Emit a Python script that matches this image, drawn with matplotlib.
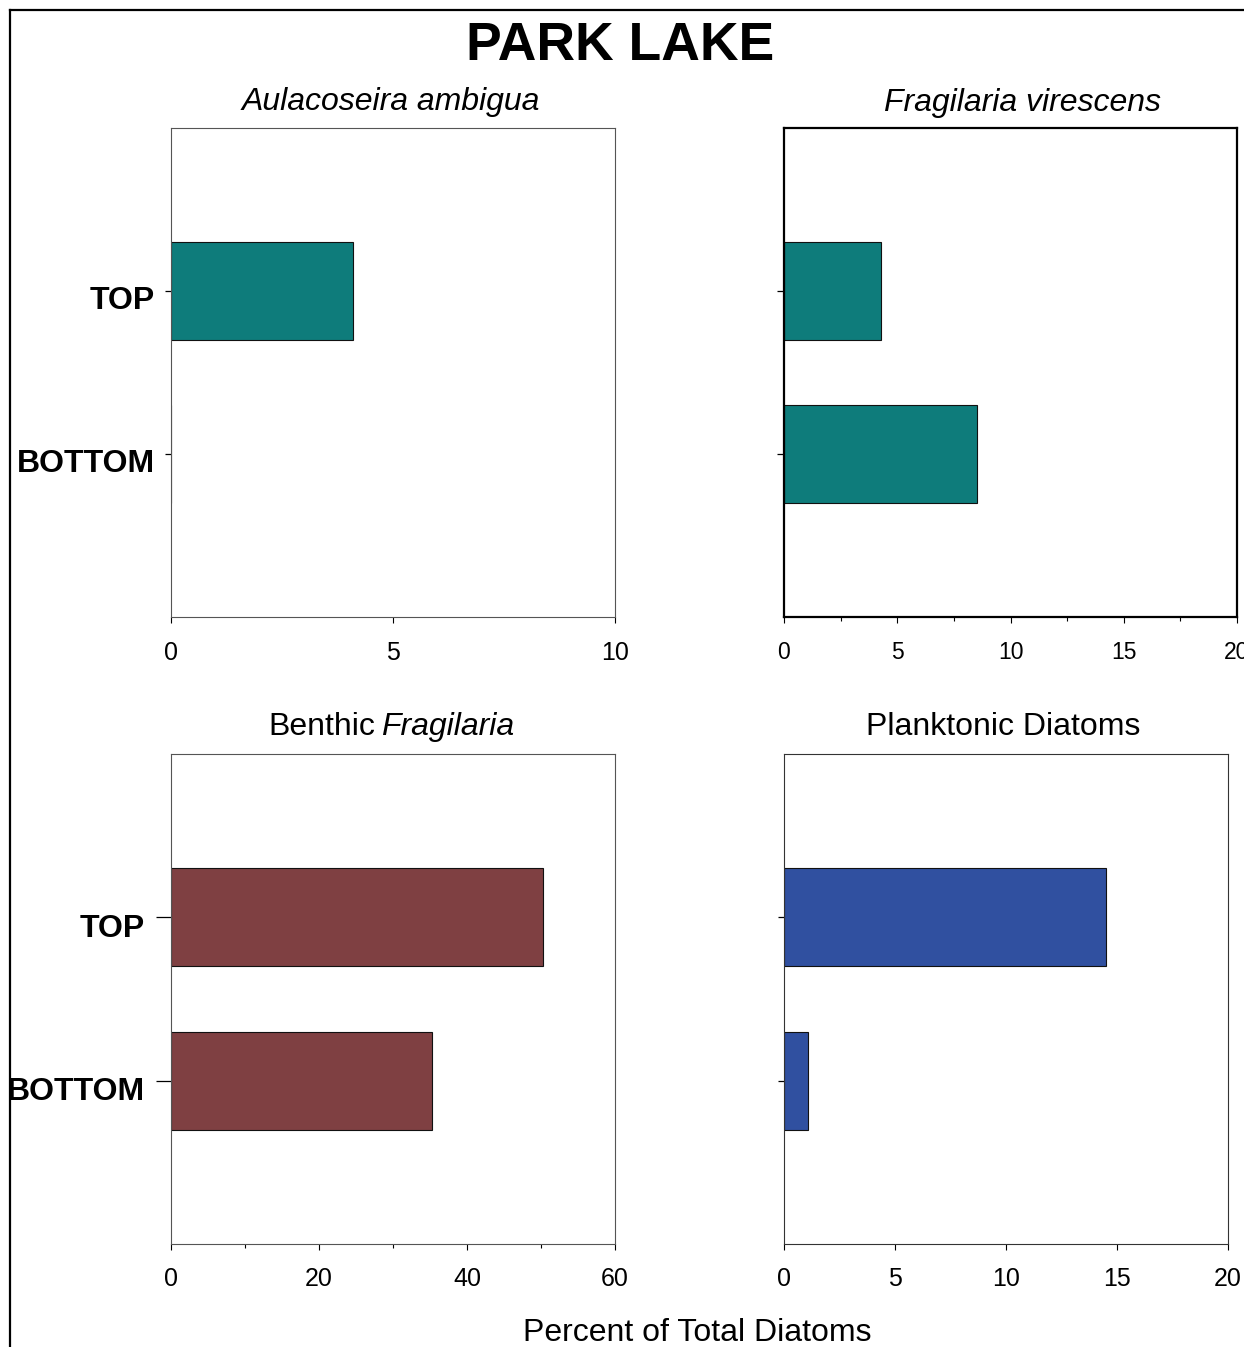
import matplotlib
matplotlib.use("Agg")
import matplotlib.pyplot as plt
from matplotlib.lines import Line2D
from matplotlib.ticker import MultipleLocator

plt.rcParams['font.family'] = ['Liberation Sans', 'DejaVu Sans']

# ---- data ----
categories = ["BOTTOM", "TOP"]
aulacoseira_ambigua = [0.0, 4.1]
fragilaria_virescens = [8.5, 4.3]
benthic_fragilaria = [35.3, 50.3]
planktonic_diatoms = [1.1, 14.5]

W, H = 1244, 1347
fig = plt.figure(figsize=(W / 100, H / 100), dpi=100)
fig.patch.set_facecolor("white")

def rect(x0, y0, x1, y1):
    return [x0 / W, 1 - y1 / H, (x1 - x0) / W, (y1 - y0) / H]

teal = "#0e7c7b"
maroon = "#7f4042"
blue = "#3050a0"

panels = [
    dict(r=rect(171, 128, 615, 617), vals=aulacoseira_ambigua, col=teal, xmax=10, major=5, minor=None,
         labels=True, tlen=4, tfs=18, spw=0.8, spc="#555555", xpad=13, lx=-11.5, ly=-5.0),
    dict(r=rect(784, 128, 1237, 617), vals=fragilaria_virescens, col=teal, xmax=20, major=5, minor=2.5,
         labels=False, tlen=5, tfs=16.5, spw=1.6, spc="black", xpad=13, lx=0, ly=0),
    dict(r=rect(171, 754, 615, 1244), vals=benthic_fragilaria, col=maroon, xmax=60, major=20, minor=10,
         labels=True, tlen=11, tfs=18, spw=0.8, spc="#555555", xpad=12, lx=-18.5, ly=-6.0),
    dict(r=rect(784, 754, 1228, 1244), vals=planktonic_diatoms, col=blue, xmax=20, major=5, minor=None,
         labels=False, tlen=4, tfs=18, spw=0.8, spc="#333333", xpad=12, lx=0, ly=0),
]

ypos = list(range(len(categories)))
for p in panels:
    ax = fig.add_axes(p["r"])
    ax.barh(ypos, p["vals"], height=0.6, color=p["col"], edgecolor="#111111", linewidth=0.8)
    ax.set_xlim(0, p["xmax"])
    ax.set_ylim(-1, 2)
    ax.xaxis.set_major_locator(MultipleLocator(p["major"]))
    if p["minor"]:
        ax.xaxis.set_minor_locator(MultipleLocator(p["minor"]))
        ax.tick_params(axis="x", which="minor", direction="out", length=3, width=0.8)
    ax.set_yticks(ypos)
    ax.set_yticklabels([])
    if p["labels"]:
        for yv, cat in zip(ypos, categories):
            ax.annotate(cat, xy=(0, yv), xycoords=("axes fraction", "data"),
                        xytext=(p["lx"], p["ly"]), textcoords="offset points",
                        ha="right", va="center_baseline", fontsize=23, fontweight="bold",
                        annotation_clip=False)
    ax.tick_params(axis="y", direction="out", length=p["tlen"], width=0.9, pad=8)
    ax.tick_params(axis="x", which="major", direction="out", length=4.5, width=0.8,
                   labelsize=p["tfs"], pad=p["xpad"])
    for s in ax.spines.values():
        s.set_linewidth(p["spw"])
        s.set_color(p["spc"])
    ax.set_facecolor("white")

# titles
def ftext(x, y, s, **kw):
    fig.text(x / W, 1 - y / H, s, va="baseline", **kw)

ftext(620, 60, "PARK LAKE", ha="center", fontsize=38.5, fontweight="bold")
ftext(391, 110, "Aulacoseira ambigua", ha="center", fontsize=23, style="italic")
ftext(1022, 111, "Fragilaria virescens", ha="center", fontsize=23, style="italic")
ftext(375, 735, "Benthic", ha="right", fontsize=23)
ftext(381, 735, "Fragilaria", ha="left", fontsize=23, style="italic")
ftext(1003, 735, "Planktonic Diatoms", ha="center", fontsize=23)
ftext(697, 1341, "Percent of Total Diatoms", ha="center", fontsize=23)

# figure border lines
fig.add_artist(Line2D([10 / W, 10 / W], [1 - 10 / H, 0], color="black", linewidth=1.6,
                      transform=fig.transFigure))
fig.add_artist(Line2D([10 / W, 1], [1 - 10 / H, 1 - 10 / H], color="black", linewidth=1.6,
                      transform=fig.transFigure))

fig.savefig("out.png", dpi=100, facecolor="white")
